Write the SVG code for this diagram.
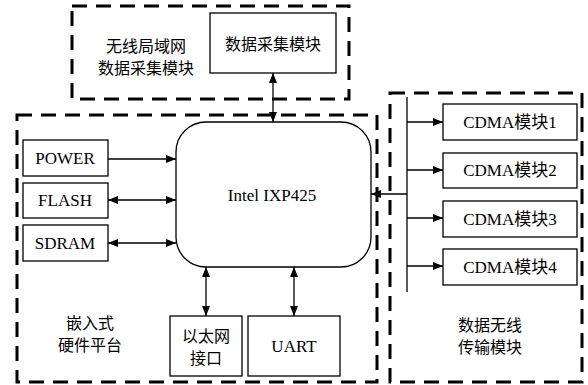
<svg xmlns="http://www.w3.org/2000/svg" width="588" height="385" viewBox="0 0 588 385">
<style>
.dash{fill:none;stroke:#000;stroke-width:3;stroke-dasharray:15 9}
.box{fill:#fff;stroke:#000;stroke-width:1.3}
.ln{fill:none;stroke:#000;stroke-width:1.3}
.lat{font-family:"Liberation Serif","Noto Sans CJK SC",serif;font-size:17px;text-anchor:middle;fill:#000}
.cjk{font-family:"Noto Sans CJK SC",sans-serif;font-size:16px;text-anchor:middle;fill:#000}
</style>
<defs>
<marker id="ah" viewBox="0 0 10 8" refX="10" refY="4" markerWidth="10" markerHeight="8" markerUnits="userSpaceOnUse" orient="auto-start-reverse">
<path d="M0,0 L10,4 L0,8 Z" fill="#000"/>
</marker>
</defs>
<g id="groups">
<rect class="dash" x="72" y="6" width="277" height="93"/>
<rect class="dash" x="17" y="115" width="360" height="267"/>
<rect class="dash" x="390" y="93" width="192" height="289"/>
</g>
<g id="labels">
<text class="cjk" x="146" y="52">无线局域网</text>
<text class="cjk" x="146" y="74">数据采集模块</text>
<text class="cjk" x="90" y="329">嵌入式</text>
<text class="cjk" x="90" y="351">硬件平台</text>
<text class="cjk" x="490" y="331">数据无线</text>
<text class="cjk" x="490" y="353">传输模块</text>
</g>
<g id="daq"><rect class="box" x="210" y="13" width="126" height="60"/><text class="cjk" x="273" y="50">数据采集模块</text></g>
<g id="cpu"><rect class="box" x="176" y="122" width="195" height="145" rx="30" ry="30"/><text class="lat" x="272" y="201">Intel IXP425</text></g>
<g id="power"><rect class="box" x="23" y="140" width="85" height="36"/><text class="lat" x="65" y="164">POWER</text></g>
<g id="flash"><rect class="box" x="23" y="183" width="85" height="35"/><text class="lat" x="65" y="206">FLASH</text></g>
<g id="sdram"><rect class="box" x="23" y="225" width="85" height="36"/><text class="lat" x="65" y="249">SDRAM</text></g>
<g id="eth"><rect class="box" x="170" y="316" width="72" height="60"/><text class="cjk" x="206" y="342">以太网</text><text class="cjk" x="206" y="364">接口</text></g>
<g id="uart"><rect class="box" x="248" y="316" width="92" height="60"/><text class="lat" x="294" y="352">UART</text></g>
<g id="cdma1"><rect class="box" x="443" y="104" width="134" height="36"/><text class="lat" x="510" y="128">CDMA模块1</text></g>
<g id="cdma2"><rect class="box" x="443" y="153" width="134" height="35"/><text class="lat" x="510" y="176">CDMA模块2</text></g>
<g id="cdma3"><rect class="box" x="443" y="201" width="134" height="36"/><text class="lat" x="510" y="225">CDMA模块3</text></g>
<g id="cdma4"><rect class="box" x="443" y="249" width="134" height="36"/><text class="lat" x="510" y="273">CDMA模块4</text></g>
<g id="connectors">
<line class="ln" x1="273" y1="73" x2="273" y2="122" marker-start="url(#ah)" marker-end="url(#ah)"/>
<line class="ln" x1="108" y1="159" x2="176" y2="159" marker-end="url(#ah)"/>
<line class="ln" x1="108" y1="200" x2="176" y2="200" marker-start="url(#ah)" marker-end="url(#ah)"/>
<line class="ln" x1="108" y1="243" x2="176" y2="243" marker-start="url(#ah)" marker-end="url(#ah)"/>
<line class="ln" x1="206" y1="267" x2="206" y2="316" marker-start="url(#ah)" marker-end="url(#ah)"/>
<line class="ln" x1="294" y1="267" x2="294" y2="316" marker-start="url(#ah)" marker-end="url(#ah)"/>
<line class="ln" x1="407" y1="97" x2="407" y2="292"/>
<line class="ln" x1="407" y1="194" x2="371" y2="194" marker-end="url(#ah)"/>
<line class="ln" x1="407" y1="122" x2="443" y2="122" marker-end="url(#ah)"/>
<line class="ln" x1="407" y1="170" x2="443" y2="170" marker-end="url(#ah)"/>
<line class="ln" x1="407" y1="218" x2="443" y2="218" marker-end="url(#ah)"/>
<line class="ln" x1="407" y1="266" x2="443" y2="266" marker-end="url(#ah)"/>
</g>
</svg>
